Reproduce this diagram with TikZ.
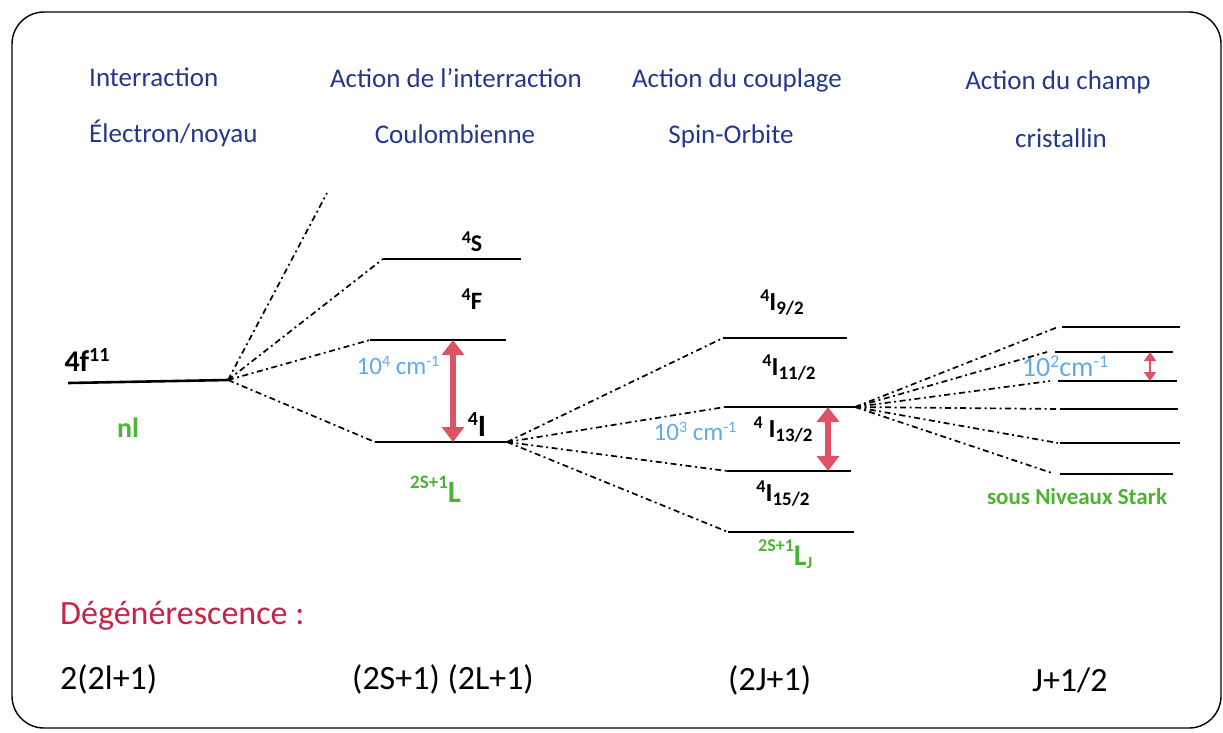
\documentclass[tikz,border=0pt]{standalone}
\usepackage{fontspec}
\setmainfont{Carlito}
\usetikzlibrary{arrows.meta}
\definecolor{hdr}{RGB}{35,55,140}
\definecolor{grn}{RGB}{75,180,50}
\definecolor{lblue}{RGB}{95,170,235}
\definecolor{rd}{RGB}{222,82,102}
\definecolor{dred}{RGB}{200,35,70}
\newcommand{\fs}[1]{\fontsize{#1}{#1}\selectfont}
% raised / lowered pieces with explicit sizes
\newcommand{\hi}[3]{\raisebox{#1}{\fs{#2}#3}}
\begin{document}
\begin{tikzpicture}[x=1pt,y=-1pt,
  lvl/.style={line width=2.6pt, black},
  stk/.style={line width=1.8pt, black},
  fan/.style={line width=1.7pt, dash pattern=on 6pt off 3.5pt on 2pt off 3.5pt},
  hd/.style={text=hdr, font=\fs{27}, inner sep=0pt},
  lab/.style={font=\bfseries, inner sep=0pt},
  cmt/.style={text=lblue, inner sep=0pt},
  gtxt/.style={text=grn, font=\bfseries, inner sep=0pt},
  btxt/.style={font=\fs{34}, inner sep=0pt},
  bigarrow/.style={rd, line width=6pt, {Triangle[width=22pt,length=15pt]}-{Triangle[width=22pt,length=15pt]}},
  smallarrow/.style={rd, line width=2pt, {Triangle[width=12pt,length=9pt]}-{Triangle[width=12pt,length=9pt]}}
]
\useasboundingbox (0,0) rectangle (1223,732);
\draw[line width=1.4pt, rounded corners=32pt] (12,12) rectangle (1221,728);

% headers
\node[hd, anchor=west] (h1a) at (89,77) {Interraction};
\node[hd, anchor=west] (h1b) at (89,133) {Électron/noyau};
\node[hd] (h2a) at (456,78) {Action de l’interraction};
\node[hd] (h2b) at (455,134) {Coulombienne};
\node[hd] (h3a) at (737,80) {Action du couplage};
\node[hd] (h3b) at (731,136) {Spin-Orbite};
\node[hd] (h4a) at (1058,82) {Action du champ};
\node[hd] (h4b) at (1061,138) {cristallin};

% column 1
\coordinate (nlL) at (68,383);
\coordinate (nlR) at (228,380);
\draw[lvl] (nlL) -- (nlR);
\node[lab, font=\bfseries\fs{30}] (f11) at (87,360) {4f\hi{10pt}{20}{11}};
\node[gtxt, font=\bfseries\fs{28}] (nl) at (128,428) {nl};

% column 2 levels
\coordinate (topEnd) at (327,193);
\coordinate (SL) at (383,259);  \coordinate (SR) at (521,259);
\coordinate (FL) at (370,340);  \coordinate (FR) at (506,340);
\coordinate (IL) at (375,442);  \coordinate (IR) at (507,442);
\draw[lvl] (SL) -- (SR);
\draw[lvl] (FL) -- (FR);
\draw[lvl] (IL) -- (IR);
\foreach \t in {topEnd,SL,FL,IL} \draw[fan] (nlR) -- (\t);
\node[lab, font=\bfseries\fs{24}] (S4) at (472,242) {\hi{8pt}{18}{4}S};
\node[lab, font=\bfseries\fs{25}] (F4) at (472,299) {\hi{9pt}{18}{4}F};
\node[lab, font=\bfseries\fs{31}] (I4) at (477,424) {\hi{11pt}{20}{4}I};
\draw[bigarrow] (453,340) -- (453,442);
\node[cmt, font=\fs{25}] (e4) at (398,365) {10\hi{8pt}{16}{4} cm\hi{8pt}{16}{-1}};
\node[gtxt, anchor=base west] (LS) at (410,502) {\hi{14pt}{19}{2S+1}\fs{31}L};

% column 3 levels
\coordinate (J9L) at (723,338);  \coordinate (J9R) at (847,338);
\coordinate (J13L) at (725,407); \coordinate (J13R) at (855,407);
\coordinate (J15L) at (727,471); \coordinate (J15R) at (851,471);
\coordinate (J0L) at (728,532);  \coordinate (J0R) at (854,532);
\draw[lvl] (J9L) -- (J9R);
\draw[lvl] (J13L) -- (J13R);
\draw[lvl] (J15L) -- (J15R);
\draw[lvl] (J0L) -- (J0R);
\foreach \t in {J9L,J13L,J15L,J0L} \draw[fan] (IR) -- (\t);
\node[lab, font=\bfseries\fs{26}] (I92) at (782,303) {\hi{9pt}{18}{4}I\hi{-4pt}{19}{9/2}};
\node[lab, font=\bfseries\fs{26}] (I112) at (789,368) {\hi{9pt}{18}{4}I\hi{-4pt}{19}{11/2}};
\node[lab, font=\bfseries\fs{26}] (I132) at (783,430) {\hi{9pt}{18}{4} I\hi{-4pt}{19}{13/2}};
\node[lab, font=\bfseries\fs{26}] (I152) at (783,494) {\hi{9pt}{18}{4}I\hi{-4pt}{19}{15/2}};
\draw[bigarrow] (828,407) -- (828,471);
\node[cmt, font=\fs{25}] (e3) at (695,431) {10\hi{8pt}{16}{3} cm\hi{8pt}{16}{-1}};
\node[gtxt, anchor=base west] (LJ) at (758,565) {\hi{14pt}{18}{2S+1}\fs{30}L\hi{-3pt}{17}{J}};

% column 4 Stark levels
\coordinate (K1L) at (1062,327); \coordinate (K1R) at (1180,327);
\coordinate (K2L) at (1055,352); \coordinate (K2R) at (1173,352);
\coordinate (K3L) at (1058,381); \coordinate (K3R) at (1177,381);
\coordinate (K4L) at (1060,409); \coordinate (K4R) at (1178,409);
\coordinate (K5L) at (1060,443); \coordinate (K5R) at (1180,443);
\coordinate (K6L) at (1060,474); \coordinate (K6R) at (1173,474);
\foreach \k in {1,...,6} \draw[stk] (K\k L) -- (K\k R);
\draw[fan] (J13R) -- (1058,327);
\draw[fan] (J13R) -- (1047,352);
\draw[fan] (J13R) -- (1050,381);
\draw[fan] (J13R) -- (1058,409);
\draw[fan] (J13R) -- (1058,443);
\draw[fan] (J13R) -- (1052,473);
\draw[smallarrow] (1150,352) -- (1150,381);
\node[cmt, font=\fs{28}] (e2) at (1065,366) {10\hi{9pt}{18}{2}cm\hi{9pt}{18}{-1}};
\node[gtxt, font=\bfseries\fs{23}] (stark) at (1077,497) {sous Niveaux Stark};

% bottom
\node[anchor=west, text=dred, font=\fs{34}, inner sep=0pt] (deg) at (60,616) {Dégénérescence :};
\node[btxt, anchor=west] (d1) at (60,679) {2(2l+1)};
\node[btxt, anchor=west] (d2) at (352,679) {(2S+1) (2L+1)};
\node[btxt, anchor=west] (d3) at (728,680) {(2J+1)};
\node[btxt, anchor=west] (d4) at (1032,680) {J+1/2};
\end{tikzpicture}
\end{document}
